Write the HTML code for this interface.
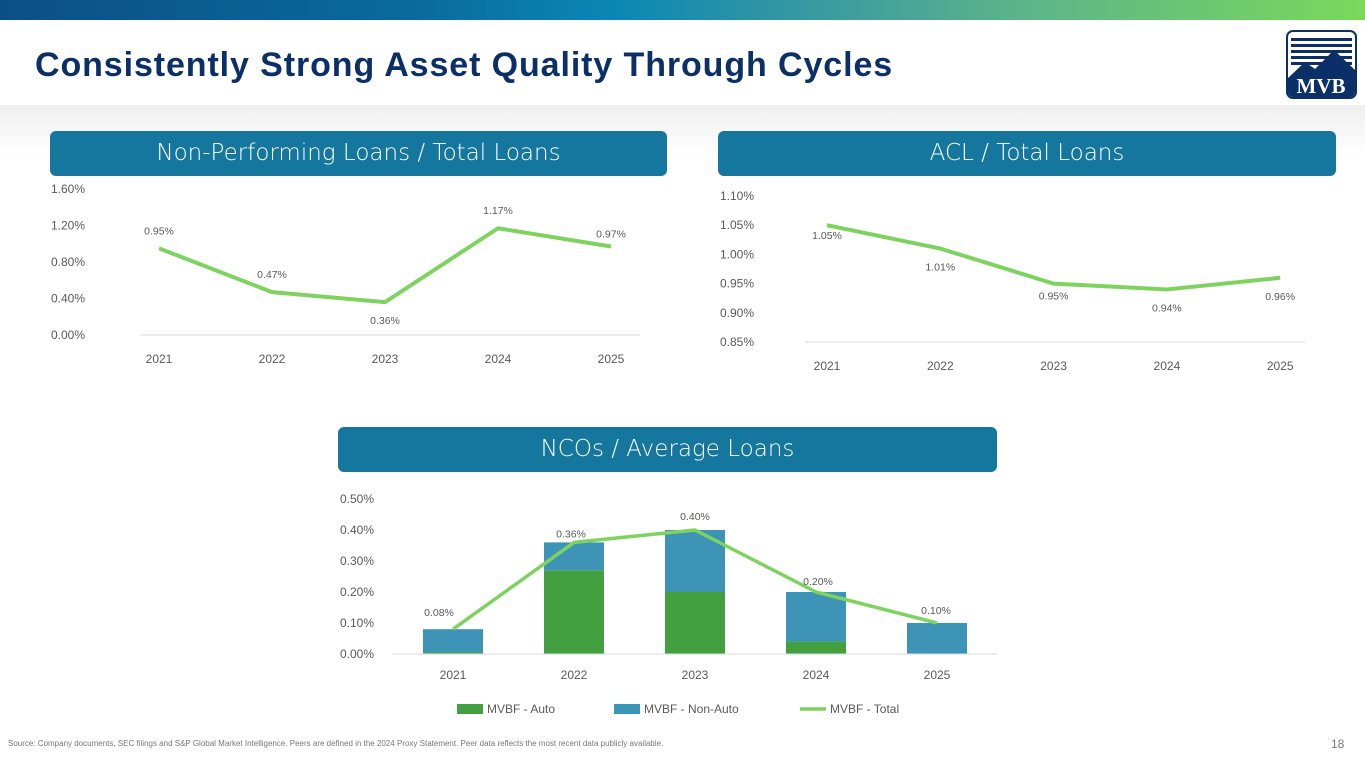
<!DOCTYPE html>
<html><head><meta charset="utf-8"><style>
*{margin:0;padding:0;box-sizing:border-box}
body{width:1365px;height:768px;overflow:hidden;background:#fff;font-family:"Liberation Sans",sans-serif;position:relative}
.topbar{position:absolute;left:0;top:0;width:1365px;height:20px;background:linear-gradient(90deg,#0b4f86 0%,#0a6a9c 30%,#0b87b5 45%,#3a9aa0 60%,#5cb48a 75%,#7ad95a 100%)}
.fade{position:absolute;left:0;top:105px;width:1365px;height:50px;background:linear-gradient(#efefef,#fff)}
h1{position:absolute;left:35px;top:46px;font-size:34px;font-weight:bold;color:#0b3067;letter-spacing:0.9px}
.pill{position:absolute;height:45px;background:#15779e;border-radius:6px;color:#fff;font-size:23px;text-align:center;line-height:45px;font-family:"DejaVu Sans","Liberation Sans",sans-serif;font-weight:300}
#c{position:absolute;left:0;top:0}
.src{position:absolute;left:8px;top:739px;font-size:8px;color:#777}
.pg{position:absolute;left:1331px;top:737px;font-size:12px;color:#777}
</style></head><body>
<div class="topbar"></div>
<div class="fade"></div>
<h1>Consistently Strong Asset Quality Through Cycles</h1>
<div style="position:absolute;left:1286px;top:30px;width:71px;height:69px;border:2px solid #0b3067;border-radius:7px;background:#fff;overflow:hidden">
<svg width="67" height="65" viewBox="0 0 67 65">
<g fill="#0b3067"><rect x="3" y="6" width="61" height="3"/><rect x="3" y="12" width="61" height="3"/><rect x="3" y="18" width="61" height="3"/><rect x="3" y="24" width="61" height="3"/><rect x="3" y="30" width="61" height="3"/>
<polygon points="0,46 17,30 27,37 46,18 67,38 67,65 0,65"/></g>
<text x="33" y="61" text-anchor="middle" font-family="Liberation Serif,serif" font-weight="bold" font-size="21" fill="#fff">MVB</text></svg></div>
<div class="pill" style="left:50px;top:131px;width:617px">Non-Performing Loans / Total Loans</div>
<div class="pill" style="left:718px;top:131px;width:618px">ACL / Total Loans</div>
<div class="pill" style="left:338px;top:427px;width:659px">NCOs / Average Loans</div>
<svg id="c" width="1365" height="768"></svg>
<div class="src">Source: Company documents, SEC filings and S&amp;P Global Market Intelligence. Peers are defined in the 2024 Proxy Statement. Peer data reflects the most recent data publicly available.</div>
<div class="pg">18</div>
<script>
const years=["2021","2022","2023","2024","2025"];
const nplValues=[0.95,0.47,0.36,1.17,0.97];
const nplTicks=[0,0.4,0.8,1.2,1.6];
const aclValues=[1.05,1.01,0.95,0.94,0.96];
const aclTicks=[0.85,0.90,0.95,1.00,1.05,1.10];
const ncoAuto=[0.005,0.27,0.20,0.04,0.0];
const ncoTotal=[0.08,0.36,0.40,0.20,0.10];
const ncoTicks=[0,0.1,0.2,0.3,0.4,0.5];
const legendLabels=["MVBF - Auto","MVBF - Non-Auto","MVBF - Total"];
const NS="http://www.w3.org/2000/svg",svg=document.getElementById('c');
function mk(t,a,txt){const e=document.createElementNS(NS,t);for(const k in a)e.setAttribute(k,a[k]);if(txt!=null)e.textContent=txt;svg.appendChild(e);return e;}
function txt(x,y,s,anchor,size,name){const e=mk('text',{x:x,y:y,'text-anchor':anchor,'font-size':size||12,fill:'#595959','font-family':'Liberation Sans,sans-serif'},s);

return e;}
function lineChart(o){
 const y=v=>o.y0+(v-o.min)/(o.max-o.min)*(o.y1-o.y0);
 const x=i=>o.x0+i*o.dx;
 mk('line',{x1:o.ax0,x2:o.ax1,y1:o.y0,y2:o.y0,stroke:'#d9d9d9'});
 o.ticks.forEach(t=>txt(o.lx,y(t)+4,t.toFixed(2)+'%','start',12,o.p+'-y-tick'));
 years.forEach((s,i)=>txt(x(i),o.y0+28,s,'middle',12,o.p+'-x-tick'));
 const l=mk('polyline',{points:o.vals.map((v,i)=>x(i)+','+y(v)).join(' '),fill:'none',stroke:'#7ed35f','stroke-width':4,'stroke-linejoin':'round'});
 
 
 o.vals.forEach((v,i)=>txt(x(i),y(v)+o.off[i],v.toFixed(2)+'%','middle',10.5,o.p+'-data-label'));
}
lineChart({p:'npl',vals:nplValues,ticks:nplTicks,min:0,max:1.6,y0:335,y1:189,x0:159,dx:113,ax0:140,ax1:640,lx:51,off:[-14,-14,22,-14,-9]});
lineChart({p:'acl',vals:aclValues,ticks:aclTicks,min:0.85,max:1.10,y0:342,y1:196,x0:827,dx:113.3,ax0:805,ax1:1305,lx:720,off:[14,22,16,22,22]});
(function(){
 const y=v=>654-v/0.5*155, x=i=>453+i*121, w=60;
 const ldx=[-14,-3,0,2,-1], ldy=[-13,-5,-10,-7,-9];
 ncoTicks.forEach(t=>txt(340,y(t)+4,t.toFixed(2)+'%','start',12,'nco-y-tick'));
 years.forEach((s,i)=>txt(x(i),679,s,'middle',12,'nco-x-tick'));
 ncoTotal.forEach((t,i)=>{
  const a=ncoAuto[i];
  const b1=mk('rect',{x:x(i)-w/2,y:y(t),width:w,height:y(a)-y(t),fill:'#3d94b6'});
  
  
  const b2=mk('rect',{x:x(i)-w/2,y:y(a),width:w,height:654-y(a),fill:'#43a041'});
  
  
 });
 mk('line',{x1:392,x2:997,y1:654,y2:654,stroke:'#d9d9d9'});
 const l=mk('polyline',{points:ncoTotal.map((v,i)=>x(i)+','+y(v)).join(' '),fill:'none',stroke:'#7ed35f','stroke-width':3.5,'stroke-linejoin':'round'});
 
 
 ncoTotal.forEach((v,i)=>txt(x(i)+ldx[i],y(v)+ldy[i],v.toFixed(2)+'%','middle',10.5,'nco-data-label'));
 mk('rect',{x:457,y:704,width:26,height:10,fill:'#43a041'});
 txt(487,713,legendLabels[0],'start',12,'legend-auto');
 mk('rect',{x:614,y:704,width:26,height:10,fill:'#3d94b6'});
 txt(644,713,legendLabels[1],'start',12,'legend-non-auto');
 mk('line',{x1:800,x2:826,y1:709,y2:709,stroke:'#7ed35f','stroke-width':3.5});
 txt(830,713,legendLabels[2],'start',12,'legend-total');
})();
</script>
</body></html>
